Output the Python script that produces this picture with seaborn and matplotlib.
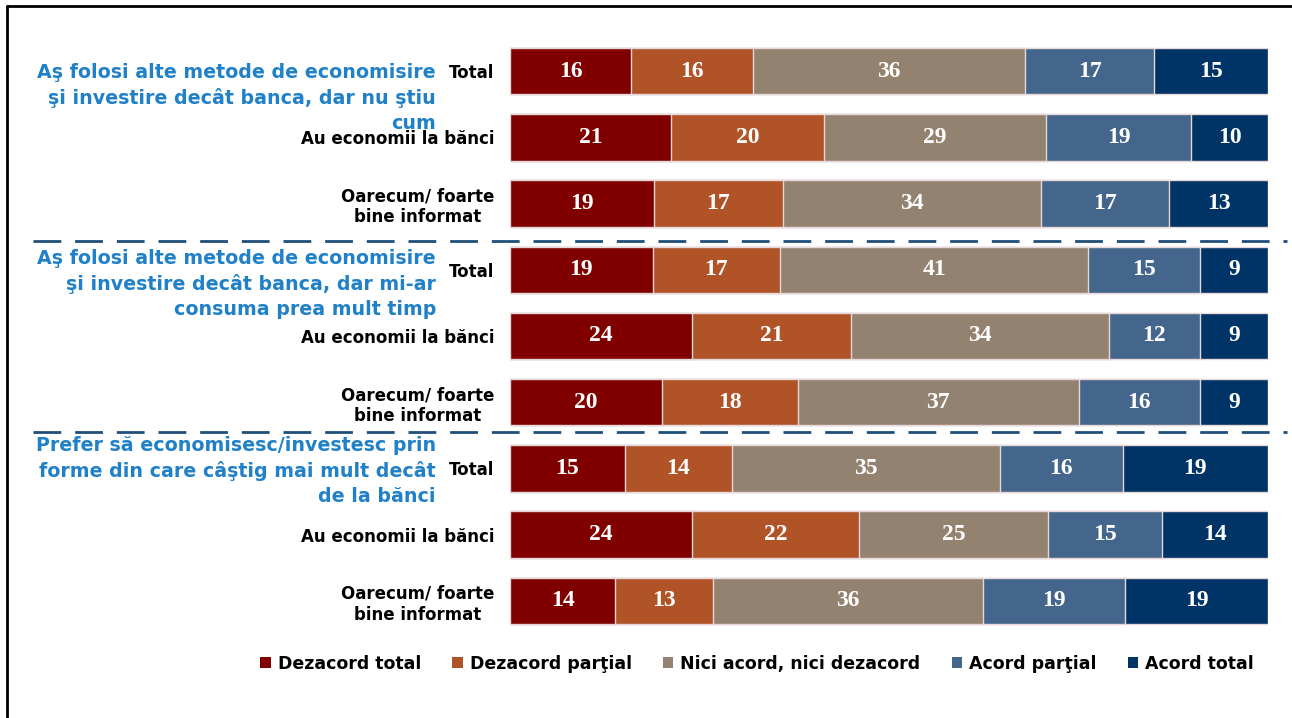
import numpy as np
import pandas as pd
import seaborn as sns
import matplotlib.pyplot as plt
from matplotlib.lines import Line2D
from matplotlib.patches import Patch

# --- data ---
titles = [
    "Aş folosi alte metode de economisire\nşi investire decât banca, dar nu ştiu\ncum",
    "Aş folosi alte metode de economisire\nşi investire decât banca, dar mi-ar\nconsuma prea mult timp",
    "Prefer să economisesc/investesc prin\nforme din care câştig mai mult decât\nde la bănci",
]
row_labels = ["Total", "Au economii la bănci", "Oarecum/ foarte\nbine informat",
              "Total", "Au economii la bănci", "Oarecum/ foarte\nbine informat",
              "Total", "Au economii la bănci", "Oarecum/ foarte\nbine informat"]
categories = ["Dezacord total", "Dezacord parţial", "Nici acord, nici dezacord",
              "Acord parţial", "Acord total"]
dezacord_total = [16, 21, 19, 19, 24, 20, 15, 24, 14]
dezacord_partial = [16, 20, 17, 17, 21, 18, 14, 22, 13]
nici = [36, 29, 34, 41, 34, 37, 35, 25, 36]
acord_partial = [17, 19, 17, 15, 12, 16, 16, 15, 19]
acord_total = [15, 10, 13, 9, 9, 9, 19, 14, 19]
colors = ["#800000", "#B05428", "#948270", "#44668C", "#003366"]

vals = np.array([dezacord_total, dezacord_partial, nici, acord_partial, acord_total], dtype=float)
share = vals / vals.sum(axis=0) * 100  # rows are rounded, scale each to full width
cum = share.cumsum(axis=0)
row_ids = ["r%d" % i for i in range(len(row_labels))]

sns.set_theme(style="white")
plt.rcParams['font.family'] = ['DejaVu Sans']

fig = plt.figure(figsize=(12.92, 7.18), dpi=100)
ax = fig.add_axes([510 / 1292, 1 - 634 / 718, 758 / 1292, 596 / 718])

# stacked bars: draw cumulative totals from the widest down
for k in range(len(categories) - 1, -1, -1):
    df = pd.DataFrame({"row": row_ids, "x": cum[k]})
    sns.barplot(data=df, x="x", y="row", order=row_ids, orient="h", color=colors[k],
                saturation=1, width=0.7, edgecolor="#E6D8D8", linewidth=1, ax=ax)

for k in range(len(categories)):
    for i in range(len(row_ids)):
        mid = cum[k, i] - share[k, i] / 2
        ax.text(mid, i, "%d" % vals[k, i], ha="center", va="center", color="white",
                fontsize=17, fontweight="bold", family="Liberation Serif")

ax.set_xlim(0, 100)
ax.set_ylim(len(row_ids) - 0.5, -0.5)
ax.set_xlabel("")
ax.set_ylabel("")
ax.set_xticks([])
ax.set_yticks(range(len(row_ids)))
ax.set_yticklabels(row_labels, fontsize=12, fontweight="bold", color="black")
for t in ax.get_yticklabels():
    t.set_multialignment("center")
ax.tick_params(axis="y", length=0, pad=11.5)
sns.despine(ax=ax, left=True, bottom=True)

# group titles
for px_y, title in zip([98, 284, 471], titles):
    fig.text(436 / 1292, 1 - px_y / 718, title, ha="right", va="center",
             multialignment="right", color="#2080C8", fontsize=13.7, fontweight="bold",
             linespacing=1.38)

# dashed separators
for px_y in [241, 432]:
    fig.add_artist(Line2D([33 / 1292, 1287 / 1292], [1 - px_y / 718] * 2,
                          transform=fig.transFigure, color="#1F4E79", linewidth=2,
                          linestyle=(0, (10, 5))))

# frame
fig.add_artist(Line2D([7 / 1292, 7 / 1292], [0, 1 - 6 / 718], transform=fig.transFigure,
                      color="black", linewidth=2))
fig.add_artist(Line2D([7 / 1292, 1], [1 - 6 / 718] * 2, transform=fig.transFigure,
                      color="black", linewidth=2))

handles = [Patch(facecolor=c, edgecolor="none") for c in colors]
fig.legend(handles, categories, loc="center", bbox_to_anchor=(757 / 1292, 1 - 664 / 718),
           ncol=5, frameon=False, handlelength=0.6, handleheight=0.6, handletextpad=0.4,
           columnspacing=1.8, labelcolor="black",
           prop={"family": "DejaVu Sans", "weight": "bold", "size": 12.5})

fig.savefig("out.png", dpi=100)
